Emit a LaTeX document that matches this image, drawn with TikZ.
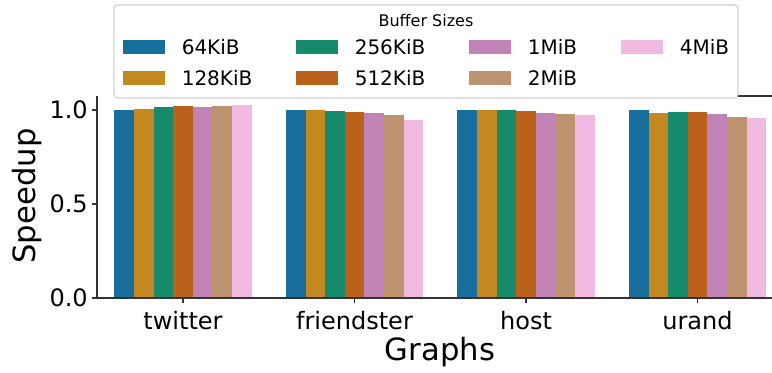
\documentclass[tikz,border=0pt]{standalone}
\usepackage{fontspec}
\setmainfont{DejaVu Sans}
\usetikzlibrary{positioning}

% bar colours, one per buffer size
\definecolor{sz0}{HTML}{176D9C}
\definecolor{sz1}{HTML}{C38820}
\definecolor{sz2}{HTML}{168B6B}
\definecolor{sz3}{HTML}{BA611B}
\definecolor{sz4}{HTML}{C182B5}
\definecolor{sz5}{HTML}{BD926E}
\definecolor{sz6}{HTML}{F1B8E0}

\begin{document}
\begin{tikzpicture}
  [x=0.75pt, y=-0.75pt,
    spine/.style={draw=black!80, line width=1pt},
    ticklabel/.style={font=\fontsize{18}{18}\selectfont, inner sep=0pt},
    axislabel/.style={font=\fontsize{23}{23}\selectfont, inner sep=0pt},
    swatch/.style={minimum width=31.5pt, minimum height=10.5pt,
      inner sep=0pt, anchor=west},
    entry/.style={font=\fontsize{15}{15}\selectfont, inner sep=0pt},
  ]
  \useasboundingbox (0,0) rectangle (772,373);

  % Bars: one group per graph, seven sizes each
  \foreach \vals [count=\g from 0] in
      {{1.0,1.005,1.016,1.021,1.016,1.021,1.027},
       {1.0,1.0,0.995,0.989,0.984,0.973,0.947},
       {1.0,1.0,1.0,0.995,0.984,0.979,0.973},
       {1.0,0.984,0.989,0.989,0.979,0.963,0.957}} {
    \foreach \v [count=\b from 0] in \vals {
      \pgfmathsetmacro\xl{183+171.5*\g-68.6+19.6*\b}
      \fill[sz\b] (\xl,298) rectangle ++(19.6,-188*\v);
    }
  }

  % Axes
  \draw[spine] (97,96) -- (97,298) -- (772,298);
  \draw[spine] (738,96) -- (772,96);

  % y ticks
  \foreach \y/\t in {110/1.0, 204/0.5, 298/0.0} {
    \draw[spine] (92,\y) -- (97,\y);
    \node[ticklabel, anchor=east] (y\t) at (88,\y) {\t};
  }

  % x ticks
  \foreach \x/\t in {183/twitter, 354.5/friendster, 526/host, 697.5/urand} {
    \draw[spine] (\x,298) -- (\x,303);
    \node[ticklabel, anchor=base] (x\t) at (\x,330) {\t};
  }

  \node[axislabel, rotate=90] (ylab) at (27,196) {Speedup};
  \node[axislabel] (xlab) at (440,352) {Graphs};

  % Legend
  \draw[draw=black!18, fill=white, line width=1pt, rounded corners=2.5pt]
    (114,5) rectangle (738,98);
  \node[font=\fontsize{12}{12}\selectfont, inner sep=0pt] (title) at (426,21)
    {Buffer Sizes};

  \node[swatch, fill=sz0] (k64) at (123,47) {};
  \node[swatch, fill=sz1] (k128) at (123,78) {};
  \node[swatch, fill=sz2] (k256) at (296,47) {};
  \node[swatch, fill=sz3] (k512) at (296,78) {};
  \node[swatch, fill=sz4] (k1m) at (469,47) {};
  \node[swatch, fill=sz5] (k2m) at (469,78) {};
  \node[swatch, fill=sz6] (k4m) at (621,47) {};

  \node[entry, right=12pt of k64] (l64) {64KiB};
  \node[entry, right=12pt of k128] (l128) {128KiB};
  \node[entry, right=12pt of k256] (l256) {256KiB};
  \node[entry, right=12pt of k512] (l512) {512KiB};
  \node[entry, right=12pt of k1m] (l1m) {1MiB};
  \node[entry, right=12pt of k2m] (l2m) {2MiB};
  \node[entry, right=12pt of k4m] (l4m) {4MiB};
\end{tikzpicture}
\end{document}
